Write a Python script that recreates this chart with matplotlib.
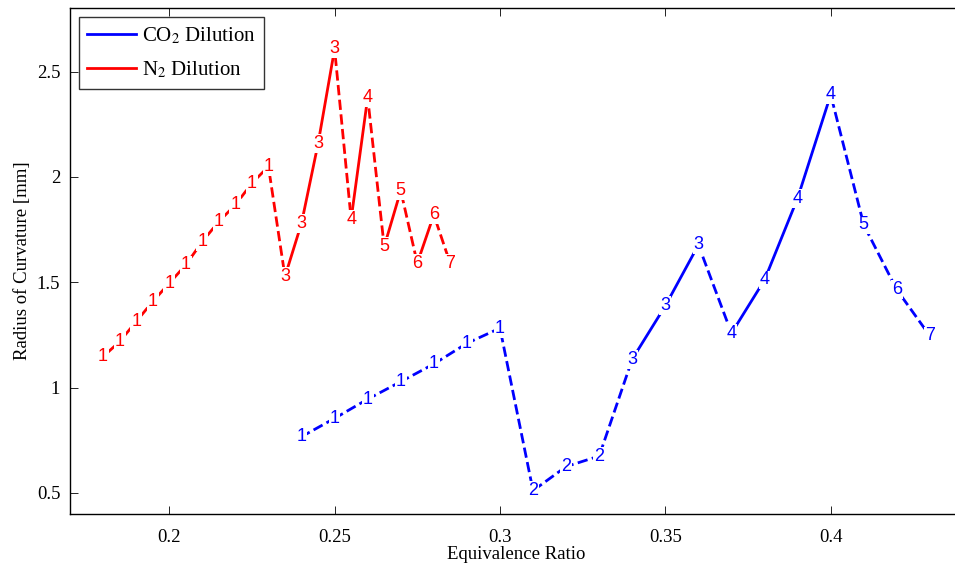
import matplotlib
matplotlib.use('Agg')
import matplotlib.pyplot as plt
import numpy as np
from matplotlib.lines import Line2D

# CO2 dilution: equivalence ratio, radius of curvature [mm], regime number
co2_phi = [0.24, 0.25, 0.26, 0.27, 0.28, 0.29, 0.30,
           0.31, 0.32, 0.33,
           0.34, 0.35, 0.36,
           0.37, 0.38, 0.39, 0.40,
           0.41, 0.42, 0.43]
co2_radius = [0.767, 0.854, 0.945, 1.028, 1.112, 1.210, 1.282,
              0.511, 0.625, 0.675,
              1.135, 1.388, 1.677,
              1.258, 1.511, 1.899, 2.390,
              1.772, 1.464, 1.245]
co2_regime = [1, 1, 1, 1, 1, 1, 1,
              2, 2, 2,
              3, 3, 3,
              4, 4, 4, 4,
              5, 6, 7]

# N2 dilution
n2_phi = [0.180, 0.185, 0.190, 0.195, 0.200, 0.205, 0.210, 0.215, 0.220, 0.225, 0.230,
          0.235, 0.240, 0.245, 0.250,
          0.255, 0.260,
          0.265, 0.270,
          0.275, 0.280,
          0.285]
n2_radius = [1.147, 1.218, 1.313, 1.408, 1.495, 1.582, 1.693, 1.788, 1.867, 1.970, 2.049,
             1.527, 1.780, 2.157, 2.607,
             1.799, 2.377,
             1.669, 1.935,
             1.590, 1.820,
             1.587]
n2_regime = [1, 1, 1, 1, 1, 1, 1, 1, 1, 1, 1,
             3, 3, 3, 3,
             4, 4,
             5, 5,
             6, 6,
             7]

y_ticks = [0.5, 1, 1.5, 2, 2.5]
y_tick_labels = ['0.5', '1', '1.5', '2', '2.5']
x_ticks = [0.2, 0.25, 0.3, 0.35, 0.4]
x_tick_labels = ['0.2', '0.25', '0.3', '0.35', '0.4']

plt.rcParams['font.family'] = 'Liberation Serif'
plt.rcParams['mathtext.fontset'] = 'stix'

LW = 2
DASH_ON, DASH_OFF = 3.7, 1.6  # unscaled dash pattern (scaled by lw)


def draw_series(ax, phi, radius, regime, color):
    pts = ax.transData.transform(np.column_stack([phi, radius]))
    # solid inside regimes 3+, dashed across transitions and in regimes 1-2
    for i in range(len(phi) - 1):
        solid = regime[i] == regime[i + 1] and regime[i] >= 3
        if solid:
            ls = '-'
        else:
            # centre a dash on the middle of the segment
            length_pt = np.hypot(*(pts[i + 1] - pts[i])) * 72 / fig.dpi
            period = (DASH_ON + DASH_OFF) * LW
            offset = (-(length_pt / 2 - DASH_ON * LW / 2)) % period
            ls = (offset / LW, (DASH_ON, DASH_OFF))
        ax.plot(phi[i:i + 2], radius[i:i + 2], color=color, lw=LW,
                ls=ls, zorder=1)
    for x, y, r in zip(phi, radius, regime):
        ax.text(x, y, str(r), color=color, ha='center', va='center',
                fontsize=13, family='Liberation Sans',
                bbox=dict(facecolor='white', edgecolor='none', pad=0.6),
                zorder=3)


fig = plt.figure(figsize=(9.55, 5.67), dpi=100)
ax = fig.add_axes([70 / 955, 53 / 567, 893 / 955, 505.7 / 567])
ax.set_xlim(0.17, 0.44)
ax.set_ylim(0.4, 2.8)

draw_series(ax, co2_phi, co2_radius, co2_regime, 'blue')
draw_series(ax, n2_phi, n2_radius, n2_regime, 'red')

ax.set_xticks(x_ticks)
ax.set_xticklabels(x_tick_labels)
ax.set_yticks(y_ticks)
ax.set_yticklabels(y_tick_labels)
ax.tick_params(direction='in', length=6, width=0.6, top=True, right=True,
               labelsize=13.5)
ax.tick_params(axis='x', pad=11)
ax.tick_params(axis='y', pad=7)
for s in ax.spines.values():
    s.set_linewidth(1)

ax.set_xlabel('Equivalence Ratio', fontsize=13.5, labelpad=0)
ax.set_ylabel('Radius of Curvature [mm]', fontsize=13.5, labelpad=4)

handles = [Line2D([], [], color='blue', lw=2),
           Line2D([], [], color='red', lw=2)]
leg = ax.legend(handles, ['CO$_2$ Dilution', 'N$_2$ Dilution'],
                loc='upper left', bbox_to_anchor=(0.01, 0.983),
                fontsize=15, frameon=True, fancybox=False,
                handlelength=2.35, handletextpad=0.25, labelspacing=0.64,
                borderpad=0.41, borderaxespad=0.0)
leg.get_frame().set_edgecolor('black')
leg.get_frame().set_linewidth(1)

fig.savefig('out.png', dpi=100)
